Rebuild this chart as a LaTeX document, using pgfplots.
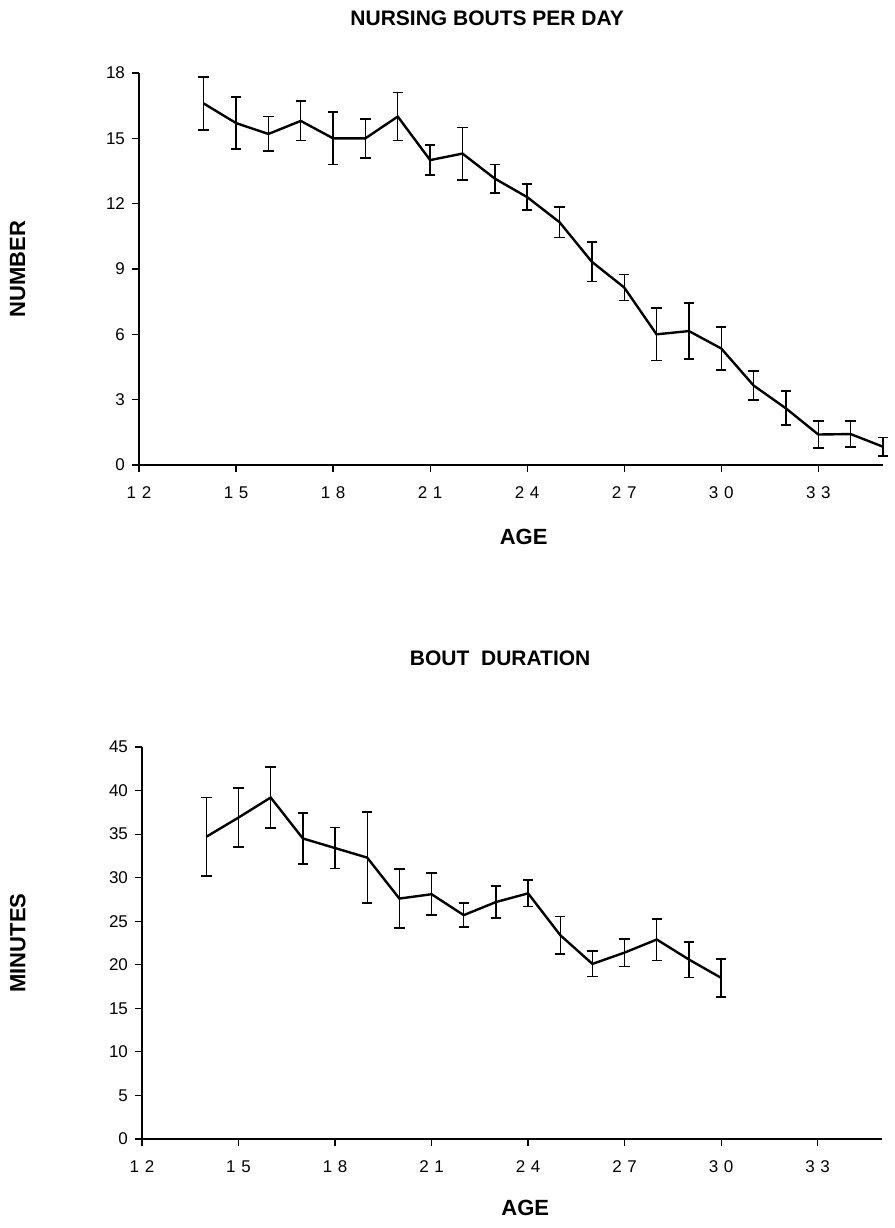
\documentclass[border=0pt]{standalone}
\usepackage{fontspec}
\setmainfont{Liberation Sans}
\usepackage{pgfplots}
\pgfplotsset{compat=1.18}

\begin{document}
\begin{tikzpicture}
\path (0,0) rectangle (444pt,614pt);
\pgfplotsset{
  nurse/.style={
    scale only axis,
    anchor=south west,
    axis x line=bottom, axis y line=left,
    axis line style={-, line width=0.6pt},
    tick style={black, line width=0.6pt},
    tick align=outside, major tick length=3.5pt,
    xmin=12, xmax=35,
    xtick={12,15,...,33},
    xticklabels={1\,\,2,1\,\,5,1\,\,8,2\,\,1,2\,\,4,2\,\,7,3\,\,0,3\,\,3},
    xticklabel style={font=\fontsize{8.5}{9}\selectfont, yshift=-4pt},
    yticklabel style={font=\fontsize{8.5}{9}\selectfont},
    /pgf/number format/assume math mode=true,
    label style={font=\bfseries\fontsize{11}{12}\selectfont},
    title style={font=\bfseries\fontsize{10.5}{12}\selectfont},
    clip=false,
  },
  dat/.style={black, line width=1.2pt, mark=none,
    error bars/.cd, y dir=both, y explicit,
    error bar style={line width=0.7pt},
    error mark options={rotate=90, mark size=2.6pt, line width=0.9pt}},
}

\begin{axis}[nurse, at={(69.5pt,381.5pt)}, width=372pt, height=196pt,
  ymin=0, ymax=18, ytick={0,3,...,18},
  xlabel={AGE}, xlabel style={at={(axis description cs:0.517,-0.184)}, anchor=center},
  ylabel={NUMBER}, ylabel style={at={(axis description cs:-0.163,0.5)}, anchor=center},
  title={NURSING BOUTS PER DAY}, title style={at={(axis description cs:0.468,1.11)}, anchor=center},
]
\addplot[dat] coordinates {
  (14,16.6) +- (0,1.2)
  (15,15.7) +- (0,1.2)
  (16,15.2) +- (0,0.8)
  (17,15.8) +- (0,0.9)
  (18,15.0) +- (0,1.2)
  (19,15.0) +- (0,0.9)
  (20,16.0) +- (0,1.1)
  (21,14.0) +- (0,0.7)
  (22,14.3) +- (0,1.2)
  (23,13.15) +- (0,0.65)
  (24,12.3) +- (0,0.6)
  (25,11.15) +- (0,0.7)
  (26,9.33) +- (0,0.9)
  (27,8.15) +- (0,0.6)
  (28,6.0) +- (0,1.2)
  (29,6.15) +- (0,1.3)
  (30,5.35) +- (0,1.0)
  (31,3.65) +- (0,0.67)
  (32,2.6) +- (0,0.78)
  (33,1.4) +- (0,0.62)
  (34,1.42) +- (0,0.61)
  (35,0.84) +- (0,0.42)
};
\end{axis}

\begin{axis}[nurse, at={(71pt,44.5pt)}, width=370pt, height=196pt,
  ymin=0, ymax=45, ytick={0,5,...,45},
  xlabel={AGE}, xlabel style={at={(axis description cs:0.518,-0.176)}, anchor=center},
  ylabel={MINUTES}, ylabel style={at={(axis description cs:-0.168,0.5)}, anchor=center},
  title={BOUT\ \ DURATION}, title style={at={(axis description cs:0.484,1.196)}, anchor=center},
]
\addplot[dat] coordinates {
  (14,34.7) +- (0,4.5)
  (15,36.9) +- (0,3.4)
  (16,39.2) +- (0,3.5)
  (17,34.5) +- (0,2.9)
  (18,33.4) +- (0,2.35)
  (19,32.3) +- (0,5.2)
  (20,27.6) +- (0,3.35)
  (21,28.1) +- (0,2.4)
  (22,25.7) +- (0,1.35)
  (23,27.2) +- (0,1.8)
  (24,28.2) +- (0,1.5)
  (25,23.4) +- (0,2.15)
  (26,20.1) +- (0,1.45)
  (27,21.4) +- (0,1.6)
  (28,22.9) +- (0,2.4)
  (29,20.6) +- (0,2.05)
  (30,18.5) +- (0,2.2)
};
\end{axis}
\end{tikzpicture}
\end{document}
